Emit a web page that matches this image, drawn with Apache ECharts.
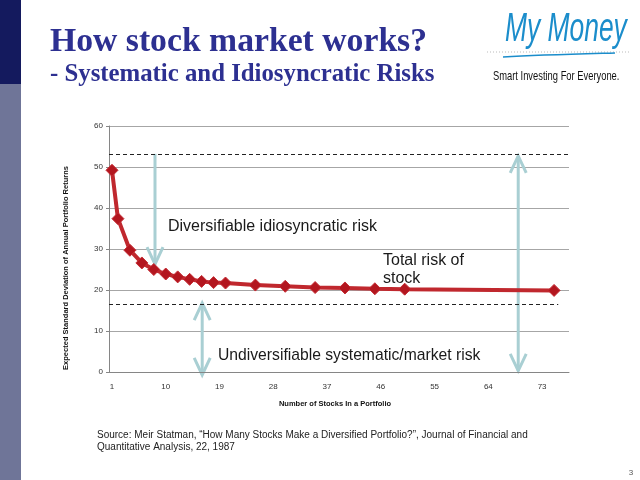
<!DOCTYPE html>
<html>
<head>
<meta charset="utf-8">
<script src="https://cdn.jsdelivr.net/npm/echarts@6/dist/echarts.min.js"></script>
<style>
  html, body { margin: 0; padding: 0; background: #fff; }
  #chart { width: 640px; height: 480px; }
</style>
</head>
<body>
<div id="chart"></div>
<script>
// portfolio risk vs number of stocks (Statman 1987)
var stockCounts = [1, 2, 4, 6, 8, 10, 12, 14, 16, 18, 20, 25, 30, 35, 40, 45, 50, 75];
var riskValues = [49.2, 37.4, 29.7, 26.6, 25.0, 23.9, 23.2, 22.6, 22.1, 21.8, 21.7, 21.2, 20.9, 20.6, 20.5, 20.3, 20.2, 19.9];
var xTicks = [1, 10, 19, 28, 37, 46, 55, 64, 73];
var totalRiskLevel = 53.2;
var marketRiskLevel = 16.5;
// annotation arrows: x, y start, y end, heads
var arrowX = [8.2, 16.1, 69];
var arrowFrom = [53.2, 16.8, 52.7];
var arrowTo = [26.3, -0.7, 0.3];
var arrowHeads = ['end', 'both', 'both'];

var points = stockCounts.map(function (n, i) { return [n, riskValues[i]]; });

var chart = echarts.init(document.getElementById('chart'));

var baseFont = 'Liberation Sans, Arial, sans-serif';
var serifFont = 'Liberation Serif, Times New Roman, serif';

chart.setOption({
  animation: false,
  grid: { left: 109, right: 71, top: 126, bottom: 108 },
  xAxis: {
    type: 'value',
    min: 0.5,
    max: 77.5,
    axisLine: { lineStyle: { color: '#868686' } },
    axisTick: { show: false },
    splitLine: { show: false },
    axisLabel: {
      customValues: xTicks,
      fontFamily: baseFont,
      fontSize: 8,
      color: '#333',
      margin: 11
    }
  },
  yAxis: {
    type: 'value',
    min: 0,
    max: 60,
    interval: 10,
    axisLine: { show: true, lineStyle: { color: '#868686' } },
    axisTick: { show: true, length: 3, lineStyle: { color: '#868686' } },
    splitLine: { lineStyle: { color: '#a6a6a6' } },
    axisLabel: { fontFamily: baseFont, fontSize: 8, color: '#333', margin: 6 }
  },
  series: [{
    type: 'line',
    data: points,
    symbol: 'diamond',
    symbolSize: 12,
    lineStyle: { color: '#c0282e', width: 4 },
    itemStyle: { color: '#b3161f', borderColor: '#c42b33', borderWidth: 1 },
    markLine: {
      silent: true,
      symbol: 'none',
      label: { show: false },
      lineStyle: { color: '#222', type: [4, 3], width: 1 },
      data: [
        [{ coord: [0.5, totalRiskLevel] }, { coord: [77.5, totalRiskLevel] }],
        [{ coord: [0.5, marketRiskLevel] }, { coord: [75.7, marketRiskLevel] }]
      ]
    }
  }]
});

// arrows are placed through the chart's own scales
var arrowColor = '#a9cfd3';
var arrowEls = [];
arrowX.forEach(function (x, i) {
  var p1 = chart.convertToPixel({ gridIndex: 0 }, [x, arrowFrom[i]]);
  var p2 = chart.convertToPixel({ gridIndex: 0 }, [x, arrowTo[i]]);
  var st = { stroke: arrowColor, lineWidth: 3, fill: null };
  arrowEls.push({ type: 'line', shape: { x1: p1[0], y1: p1[1], x2: p2[0], y2: p2[1] }, style: st });
  var dir = p2[1] > p1[1] ? 1 : -1;
  arrowEls.push({
    type: 'polyline',
    shape: { points: [[p2[0] - 8, p2[1] - dir * 17], [p2[0], p2[1]], [p2[0] + 8, p2[1] - dir * 17]] },
    style: st
  });
  if (arrowHeads[i] === 'both') {
    arrowEls.push({
      type: 'polyline',
      shape: { points: [[p1[0] - 8, p1[1] + dir * 17], [p1[0], p1[1]], [p1[0] + 8, p1[1] + dir * 17]] },
      style: st
    });
  }
});

var textEls = [
  // side bar
  { type: 'rect', shape: { x: 0, y: 0, width: 21, height: 84 }, style: { fill: '#141a5e' } },
  { type: 'rect', shape: { x: 0, y: 84, width: 21, height: 396 }, style: { fill: '#6f7598' } },
  // titles
  { type: 'text', x: 50, y: 59, style: { text: 'How stock market works?', font: 'bold 33.7px ' + serifFont, fill: '#2d3091', textVerticalAlign: 'bottom' } },
  { type: 'text', x: 50, y: 87, style: { text: '- Systematic and Idiosyncratic Risks', font: 'bold 24.8px ' + serifFont, fill: '#2d3091', textVerticalAlign: 'bottom' } },
  // logo
  { type: 'text', x: 505, y: 30, scaleX: 0.66, style: { text: 'My Money', font: 'italic 40px ' + baseFont, fill: '#1b8dcb', textVerticalAlign: 'middle' } },
  { type: 'line', shape: { x1: 487, y1: 52, x2: 630, y2: 52 }, style: { stroke: '#bbb', lineWidth: 1, lineDash: [1, 2] } },
  { type: 'bezierCurve', shape: { x1: 503, y1: 57, cpx1: 540, cpy1: 55, cpx2: 580, cpy2: 54, x2: 615, y2: 53 }, style: { stroke: '#1b8dcb', lineWidth: 1.5, fill: null } },
  { type: 'text', x: 493, y: 76, scaleX: 0.72, style: { text: 'Smart Investing For Everyone.', font: '13px ' + baseFont, fill: '#111', textVerticalAlign: 'middle' } },
  // axis names
  { type: 'text', x: 66, y: 268, rotation: Math.PI / 2, style: { text: 'Expected Standard Deviation of Annual Portfolio Returns', font: 'bold 7.5px ' + baseFont, fill: '#111', textAlign: 'center', textVerticalAlign: 'middle' } },
  { type: 'text', x: 335, y: 404, style: { text: 'Number of Stocks In a Portfolio', font: 'bold 7.5px ' + baseFont, fill: '#111', textAlign: 'center', textVerticalAlign: 'middle' } },
  // annotations
  { type: 'text', x: 168, y: 227, style: { text: 'Diversifiable idiosyncratic risk', font: '16px ' + baseFont, fill: '#1a1a1a', textVerticalAlign: 'middle' } },
  { type: 'text', x: 383, y: 261, style: { text: 'Total risk of', font: '16px ' + baseFont, fill: '#1a1a1a', textVerticalAlign: 'middle' } },
  { type: 'text', x: 383, y: 279, style: { text: 'stock', font: '16px ' + baseFont, fill: '#1a1a1a', textVerticalAlign: 'middle' } },
  { type: 'text', x: 218, y: 356, style: { text: 'Undiversifiable systematic/market risk', font: '15.7px ' + baseFont, fill: '#1a1a1a', textVerticalAlign: 'middle' } },
  // source and page number
  { type: 'text', x: 97, y: 435, style: { text: 'Source: Meir Statman, \u201cHow Many Stocks Make a Diversified Portfolio?\u201d, Journal of Financial and', font: '10px ' + baseFont, fill: '#222', textVerticalAlign: 'middle' } },
  { type: 'text', x: 97, y: 447, style: { text: 'Quantitative Analysis, 22, 1987', font: '10px ' + baseFont, fill: '#222', textVerticalAlign: 'middle' } },
  { type: 'text', x: 631, y: 473, style: { text: '3', font: '8px ' + baseFont, fill: '#555', textAlign: 'center', textVerticalAlign: 'middle' } }
];

chart.setOption({ graphic: textEls.concat(arrowEls) });
</script>
</body>
</html>
